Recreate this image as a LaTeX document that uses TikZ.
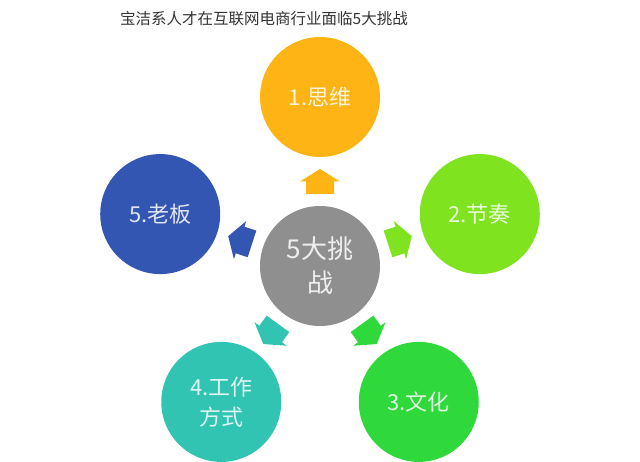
\documentclass[tikz,border=0pt]{standalone}
\usepackage{fontspec}
\setmainfont{Noto Sans CJK SC}
\usetikzlibrary{calc}
\definecolor{cOrange}{HTML}{FDB414}
\definecolor{cLime}{HTML}{7FE41F}
\definecolor{cGreen}{HTML}{2FD93C}
\definecolor{cTeal}{HTML}{31C4B2}
\definecolor{cBlue}{HTML}{3456B3}
\definecolor{cGray}{HTML}{8F8F90}
\definecolor{cTitle}{HTML}{333333}
\tikzset{
  bubble/.style={circle, minimum size=120pt, inner sep=0pt, fill=#1, text=white, text opacity=0.85, align=center, font=\fontsize{22}{30}\selectfont},
  hub/.style={bubble=cGray, font=\fontsize{26}{34}\selectfont},
  blockarrow/.style={fill=#1}
}
\begin{document}
\begin{tikzpicture}[x=1pt,y=1pt]
\useasboundingbox (0,0) rectangle (640,462);
\node[font=\fontsize{15.5}{18}\selectfont, text=cTitle] (title) at (264,443) {宝洁系人才在互联网电商行业面临5大挑战};
\coordinate (c0) at (320,196);
\node[hub] (c) at (c0) {5大挑\\战};
\node[bubble=cOrange] (n1) at ($(c0)+(90:169pt)$) {1.思维};
\node[bubble=cLime]   (n2) at ($(c0)+(18:168pt)$) {2.节奏};
\node[bubble=cGreen]  (n3) at ($(c0)+(-54:168pt)$) {3.文化};
\node[bubble=cTeal]   (n4) at ($(c0)+(-126:168pt)$) {4.工作\\方式};
\node[bubble=cBlue]   (n5) at ($(c0)+(162:168pt)$) {5.老板};
\foreach \n/\a/\col in {n1/90/cOrange, n2/18/cLime, n3/-54/cGreen, n4/-126/cTeal, n5/162/cBlue}{
  \coordinate (m) at ($(c)!0.5!(\n)$);
  \fill[blockarrow=\col, shift={(m)}, rotate=\a-90]
    (0,12.5) -- (20,0) -- (14,0) -- (14,-12.5) -- (-14,-12.5) -- (-14,0) -- (-20,0) -- cycle;
}
\end{tikzpicture}
\end{document}
